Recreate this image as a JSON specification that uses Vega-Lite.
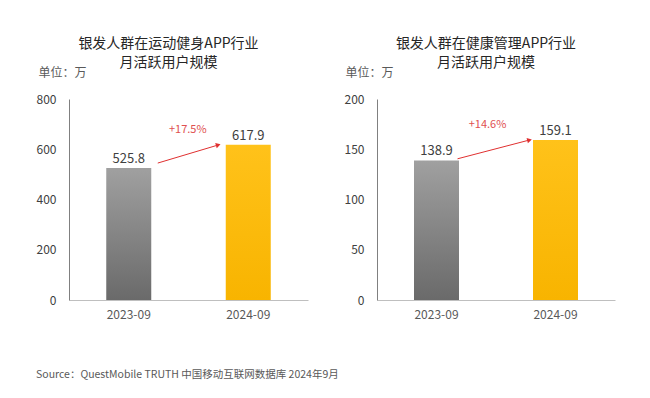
{
  "$schema": "https://vega.github.io/schema/vega-lite/v6.json",
  "background": "white",
  "padding": {"left": 36, "top": 37, "right": 5, "bottom": 5},
  "config": {
    "font": "Noto Sans CJK SC",
    "view": {"stroke": null},
    "concat": {"spacing": 36},
    "axisY": {"ticks": false, "grid": false, "domainColor": "#808080", "labelColor": "#404040", "labelFontSize": 12, "labelPadding": 13, "titleAngle": 0, "titleAlign": "left", "titleBaseline": "middle", "titleY": -27, "titleFontSize": 12, "titleFontWeight": "normal", "titleColor": "#595959"},
    "axisX": {"ticks": false, "grid": false, "domainColor": "#bfbfbf", "labelColor": "#595959", "labelFontSize": 12, "labelPadding": 9, "labelAngle": 0, "title": null}
  },
  "datasets": {
    "fitness": [
      {"period": "2023-09", "mau": 525.8},
      {"period": "2024-09", "mau": 617.9}
    ],
    "fitness_growth": [
      {"from": "2023-09", "to": "2024-09", "start": 545, "end": 617, "labelpos": 677, "label": "+17.5%"}
    ],
    "health": [
      {"period": "2023-09", "mau": 138.9},
      {"period": "2024-09", "mau": 159.1}
    ],
    "health_growth": [
      {"from": "2023-09", "to": "2024-09", "start": 140.5, "end": 159.2, "labelpos": 174, "label": "+14.6%"}
    ]
  },
  "hconcat": [
    {
      "width": 239,
      "height": 201,
      "title": {"text": ["银发人群在运动健身APP行业", "月活跃用户规模"], "frame": "group", "dx": -20, "fontSize": 14, "fontWeight": "normal", "color": "#262626", "lineHeight": 19, "offset": -4},
      "layer": [
        {
          "data": {"name": "fitness"},
          "transform": [{"filter": "datum.period == '2023-09'"}],
          "mark": {"type": "bar", "size": 45, "color": {"gradient": "linear", "x1": 0, "y1": 0, "x2": 0, "y2": 1, "stops": [{"offset": 0, "color": "#a0a0a0"}, {"offset": 1, "color": "#6a6a6a"}]}},
          "encoding": {
            "x": {"field": "period", "type": "nominal", "scale": {"domain": ["2023-09", "2024-09"], "paddingInner": 0.6, "paddingOuter": 0.3}},
            "y": {"field": "mau", "type": "quantitative", "scale": {"domain": [0, 800], "nice": false}, "axis": {"values": [0, 200, 400, 600, 800], "title": "单位：万", "titleX": -31}}
          }
        },
        {
          "data": {"name": "fitness"},
          "transform": [{"filter": "datum.period == '2024-09'"}],
          "mark": {"type": "bar", "size": 45, "color": {"gradient": "linear", "x1": 0, "y1": 0, "x2": 0, "y2": 1, "stops": [{"offset": 0, "color": "#ffc21a"}, {"offset": 1, "color": "#f8b400"}]}},
          "encoding": {
            "x": {"field": "period", "type": "nominal"},
            "y": {"field": "mau", "type": "quantitative"}
          }
        },
        {
          "data": {"name": "fitness"},
          "mark": {"type": "text", "baseline": "bottom", "dy": -2, "fontSize": 13, "color": "#404040"},
          "encoding": {
            "x": {"field": "period", "type": "nominal"},
            "y": {"field": "mau", "type": "quantitative"},
            "text": {"field": "mau", "type": "quantitative", "format": ".1f"}
          }
        },
        {
          "data": {"name": "fitness_growth"},
          "mark": {"type": "rule", "color": "#e03030", "strokeWidth": 1, "xOffset": 29, "x2Offset": -30},
          "encoding": {
            "x": {"field": "from", "type": "nominal"},
            "x2": {"field": "to"},
            "y": {"field": "start", "type": "quantitative"},
            "y2": {"field": "end"}
          }
        },
        {
          "data": {"name": "fitness_growth"},
          "mark": {"type": "point", "shape": "triangle-right", "filled": true, "size": 30, "color": "#e03030", "opacity": 1, "angle": 344, "xOffset": -30},
          "encoding": {
            "x": {"field": "to", "type": "nominal"},
            "y": {"field": "end", "type": "quantitative"}
          }
        },
        {
          "data": {"name": "fitness_growth"},
          "mark": {"type": "text", "fontSize": 11, "color": "#e05050", "xOffset": 59},
          "encoding": {
            "x": {"field": "from", "type": "nominal"},
            "y": {"field": "labelpos", "type": "quantitative"},
            "text": {"field": "label"}
          }
        }
      ]
    },
    {
      "width": 238,
      "height": 201,
      "title": {"text": ["银发人群在健康管理APP行业", "月活跃用户规模"], "frame": "group", "dx": -10, "fontSize": 14, "fontWeight": "normal", "color": "#262626", "lineHeight": 19, "offset": -4},
      "layer": [
        {
          "data": {"name": "health"},
          "transform": [{"filter": "datum.period == '2023-09'"}],
          "mark": {"type": "bar", "size": 45, "color": {"gradient": "linear", "x1": 0, "y1": 0, "x2": 0, "y2": 1, "stops": [{"offset": 0, "color": "#a0a0a0"}, {"offset": 1, "color": "#6a6a6a"}]}},
          "encoding": {
            "x": {"field": "period", "type": "nominal", "scale": {"domain": ["2023-09", "2024-09"], "paddingInner": 0.6, "paddingOuter": 0.3}},
            "y": {"field": "mau", "type": "quantitative", "scale": {"domain": [0, 200], "nice": false}, "axis": {"values": [0, 50, 100, 150, 200], "title": "单位：万", "titleX": -32}}
          }
        },
        {
          "data": {"name": "health"},
          "transform": [{"filter": "datum.period == '2024-09'"}],
          "mark": {"type": "bar", "size": 45, "color": {"gradient": "linear", "x1": 0, "y1": 0, "x2": 0, "y2": 1, "stops": [{"offset": 0, "color": "#ffc21a"}, {"offset": 1, "color": "#f8b400"}]}},
          "encoding": {
            "x": {"field": "period", "type": "nominal"},
            "y": {"field": "mau", "type": "quantitative"}
          }
        },
        {
          "data": {"name": "health"},
          "mark": {"type": "text", "baseline": "bottom", "dy": -2, "fontSize": 13, "color": "#404040"},
          "encoding": {
            "x": {"field": "period", "type": "nominal"},
            "y": {"field": "mau", "type": "quantitative"},
            "text": {"field": "mau", "type": "quantitative", "format": ".1f"}
          }
        },
        {
          "data": {"name": "health_growth"},
          "mark": {"type": "rule", "color": "#e03030", "strokeWidth": 1, "xOffset": 21, "x2Offset": -26},
          "encoding": {
            "x": {"field": "from", "type": "nominal"},
            "x2": {"field": "to"},
            "y": {"field": "start", "type": "quantitative"},
            "y2": {"field": "end"}
          }
        },
        {
          "data": {"name": "health_growth"},
          "mark": {"type": "point", "shape": "triangle-right", "filled": true, "size": 30, "color": "#e03030", "opacity": 1, "angle": 346, "xOffset": -26},
          "encoding": {
            "x": {"field": "to", "type": "nominal"},
            "y": {"field": "end", "type": "quantitative"}
          }
        },
        {
          "data": {"name": "health_growth"},
          "mark": {"type": "text", "fontSize": 11, "color": "#e05050", "xOffset": 51},
          "encoding": {
            "x": {"field": "from", "type": "nominal"},
            "y": {"field": "labelpos", "type": "quantitative"},
            "text": {"field": "label"}
          }
        }
      ]
    }
  ],
  "title": {"text": "Source：QuestMobile TRUTH 中国移动互联网数据库 2024年9月", "orient": "bottom", "anchor": "start", "fontSize": 10.5, "fontWeight": "normal", "color": "#595959", "offset": 50}
}
